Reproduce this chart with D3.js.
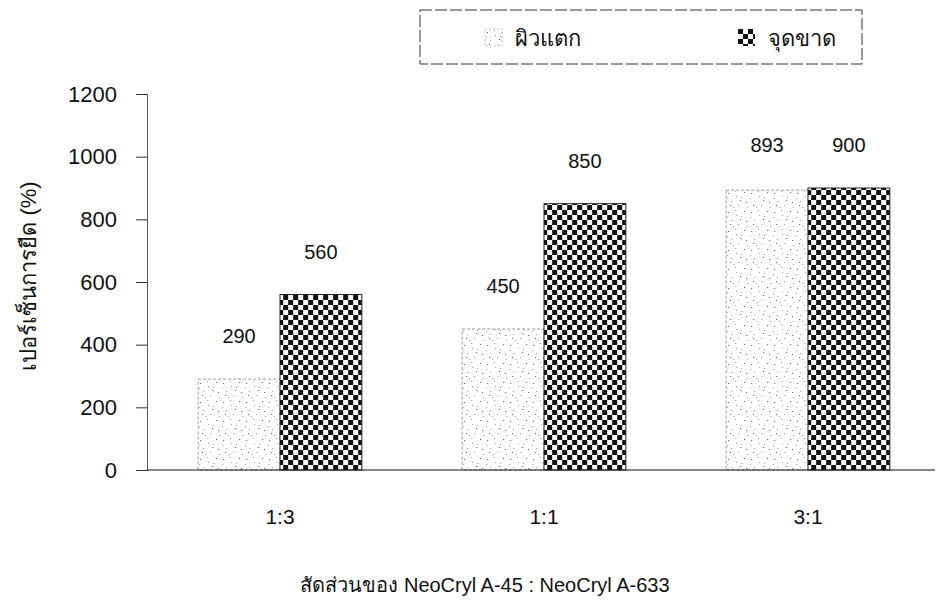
<!DOCTYPE html>
<html>
<head>
<meta charset="utf-8">
<script src="https://cdn.jsdelivr.net/npm/d3@7"></script>
<style>
  body { margin: 0; background: white; }
  text { font-family: "Liberation Sans", Arial, sans-serif; fill: #111; }
</style>
</head>
<body>
<svg id="chart" width="937" height="608"></svg>
<script>
var categories = ["1:3", "1:1", "3:1"];
var seriesNames = ["ผิวแตก", "จุดขาด"];
var crackValues = [290, 450, 893];
var breakValues = [560, 850, 900];
var yTicks = [0, 200, 400, 600, 800, 1000, 1200];

var svg = d3.select("#chart");
var defs = svg.append("defs");

// speckled pattern for first series
var speck = defs.append("pattern")
    .attr("id", "speck")
    .attr("width", 23).attr("height", 19)
    .attr("patternUnits", "userSpaceOnUse");
speck.append("rect").attr("width", 23).attr("height", 19).attr("fill", "white");
[[2, 3], [9, 1], [15, 7], [20, 12], [5, 11], [12, 15], [18, 2], [7, 17], [1, 8], [14, 10], [10, 6], [21, 17], [4, 15]]
    .forEach(function (p, i) {
        speck.append("rect")
            .attr("x", p[0]).attr("y", p[1])
            .attr("width", 1).attr("height", 1)
            .attr("fill", i % 3 == 0 ? "#555" : "#999");
    });

// checker pattern for second series
var checker = defs.append("pattern")
    .attr("id", "checker")
    .attr("width", 10).attr("height", 10)
    .attr("patternUnits", "userSpaceOnUse");
checker.append("rect").attr("width", 10).attr("height", 10).attr("fill", "white");
checker.append("rect").attr("x", 0).attr("y", 0).attr("width", 5).attr("height", 5).attr("fill", "#111");
checker.append("rect").attr("x", 5).attr("y", 5).attr("width", 5).attr("height", 5).attr("fill", "#111");

var fills = ["url(#speck)", "url(#checker)"];
var strokes = ["#999", "#222"];

var x = d3.scaleBand().domain(categories).range([148, 940]).paddingInner(0.38).paddingOuter(0.19);
var x1 = d3.scaleBand().domain([0, 1]).range([0, x.bandwidth()]);
var y = d3.scaleLinear().domain([0, 1200]).range([470, 94]);

// y axis
var yAxis = svg.append("g")
    .attr("transform", "translate(147,0)")
    .call(d3.axisLeft(y).tickValues(yTicks).tickFormat(d3.format("d")).tickSize(11).tickPadding(19));
yAxis.select(".domain").attr("stroke", "#555");
yAxis.selectAll(".tick line").attr("stroke", "#333");
yAxis.selectAll(".tick text").style("font-size", "22px").attr("fill", "#111");

// bars
var groups = svg.selectAll(".grp")
    .data(categories)
    .enter().append("g")
    .attr("class", "grp")
    .attr("transform", function (d) { return "translate(" + x(d) + ",0)"; });

var rows = categories.map(function (c, i) { return [crackValues[i], breakValues[i]]; });

groups.selectAll("rect")
    .data(function (d, i) { return rows[i]; })
    .enter().append("rect")
    .attr("x", function (d, j) { return x1(j); })
    .attr("y", function (d) { return y(d); })
    .attr("width", x1.bandwidth())
    .attr("height", function (d) { return y(0) - y(d); })
    .attr("fill", function (d, j) { return fills[j]; })
    .attr("stroke", function (d, j) { return strokes[j]; })
    .attr("stroke-width", 1)
    .attr("stroke-dasharray", function (d, j) { return j == 0 ? "3,2" : null; });

groups.selectAll(".val")
    .data(function (d, i) { return rows[i]; })
    .enter().append("text")
    .attr("class", "val")
    .attr("x", function (d, j) { return x1(j) + x1.bandwidth() / 2; })
    .attr("y", function (d, j) { return (d == 893 ? y(900) : y(d)) - 43; })
    .attr("text-anchor", "middle")
    .attr("dominant-baseline", "central")
    .style("font-size", "20px")
    .text(function (d) { return d; });

// x axis line
svg.append("line")
    .attr("x1", 147).attr("x2", 935)
    .attr("y1", y(0)).attr("y2", y(0))
    .attr("stroke", "#111").attr("stroke-width", 1.2);

// category labels
svg.selectAll(".cat")
    .data(categories)
    .enter().append("text")
    .attr("class", "cat")
    .attr("x", function (d) { return x(d) + x.bandwidth() / 2; })
    .attr("y", 516)
    .attr("text-anchor", "middle")
    .attr("dominant-baseline", "central")
    .style("font-size", "21px")
    .text(function (d) { return d; });

// axis titles
svg.append("text")
    .attr("transform", "translate(28,276) rotate(-90)")
    .attr("text-anchor", "middle")
    .attr("dominant-baseline", "central")
    .style("font-size", "22px")
    .text("เปอร์เซ็นการยืด (%)");

svg.append("text")
    .attr("x", 485).attr("y", 585)
    .attr("text-anchor", "middle")
    .attr("dominant-baseline", "central")
    .style("font-size", "20px")
    .text("สัดส่วนของ NeoCryl A-45 : NeoCryl A-633");

// legend
var legend = svg.append("g");
legend.append("rect")
    .attr("x", 420).attr("y", 10)
    .attr("width", 442).attr("height", 54)
    .attr("fill", "white")
    .attr("stroke", "#333")
    .attr("stroke-dasharray", "12,3");

var legendX = [485, 738];
var items = legend.selectAll(".item")
    .data(seriesNames)
    .enter().append("g")
    .attr("class", "item")
    .attr("transform", function (d, i) { return "translate(" + legendX[i] + ",29)"; });
items.append("rect")
    .attr("width", 17).attr("height", 17)
    .attr("fill", function (d, i) { return fills[i]; })
    .attr("stroke", function (d, i) { return i == 0 ? "#bbb" : "none"; })
    .attr("stroke-dasharray", "2,2");
items.append("text")
    .attr("x", 30).attr("y", 9)
    .attr("dominant-baseline", "central")
    .style("font-size", "22px")
    .text(function (d) { return d; });
</script>
</body>
</html>
